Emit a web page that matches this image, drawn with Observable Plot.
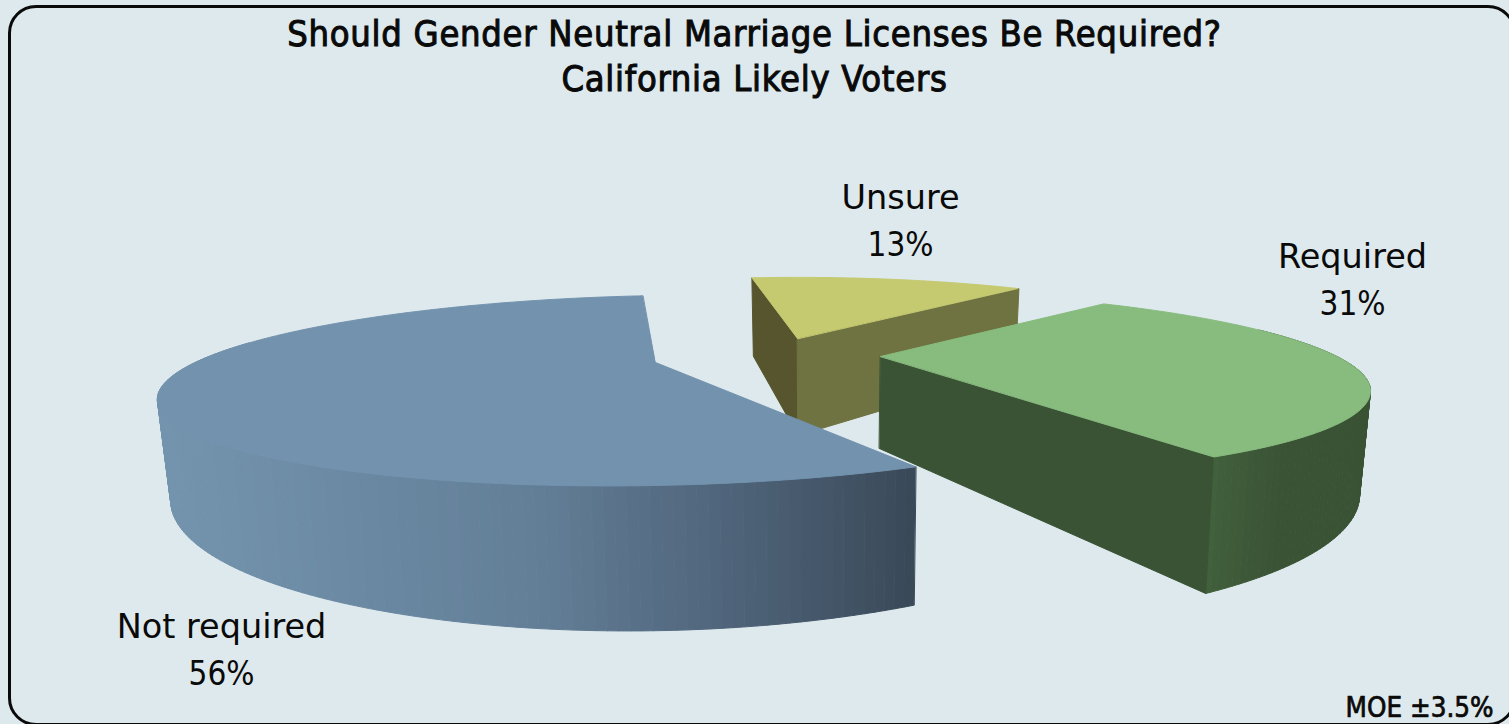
<!DOCTYPE html>
<html><head><meta charset="utf-8">
<script src="https://cdn.jsdelivr.net/npm/d3@7"></script>
<script src="https://cdn.jsdelivr.net/npm/@observablehq/plot@0.6"></script>
<style>
html,body{margin:0;padding:0;background:#dde9ed;overflow:hidden}
#frame{position:absolute;left:8px;top:5px;width:1502px;height:715px;border:3px solid #0a0a0a;border-radius:28px;box-sizing:content-box;pointer-events:none;z-index:2}
#chart{position:absolute;left:0;top:0;width:1509px;height:724px;overflow:hidden}
#title{position:absolute;left:0;top:11px;width:1509px;text-align:center;font:36px/45px "DejaVu Sans Condensed","DejaVu Sans",sans-serif;letter-spacing:.72px;-webkit-text-stroke:1px #0a0a0a;color:#0a0a0a;z-index:1}
svg{position:absolute;left:0;top:0;background:transparent}
</style></head><body>
<div id="chart">
<div id="frame"></div>
<div id="title">Should Gender Neutral Marriage Licenses Be Required?<br>California Likely Voters</div>
</div>
<script>
// Data
const categories = ["Unsure", "Required", "Not required"];
const shares = [13, 31, 56];
const moeLabel = "MOE ±3.5%";

// Look of each slice, in drawing order (back to front)
const sliceStart = [-97.8, -54, 66.5];
const apexX = [797, 880, 655];
const apexY = [338, 356, 362];
const sliceScale = [0.89, 0.985, 1];
const sliceShear = [0, 0.015, -0.018];
const sliceDepth = [97, 92, 89];
const depthPower = [0.92, 1.4, 1.4];
const topColors = ["#c5c96f", "#87bc7e", "#7392ae"];
const wallStops = [["#6f7341", "#6f7341"], ["#41603c", "#3d5838", "#3a5335", "#3a5335"], ["#7494ae", "#637f98", "#4c6075", "#3a4958"]];
const wallStopAt = [[0, 1], [0, 0.25, 0.45, 1], [0, 0.5, 0.8, 1]];
const cutColors = ["#6f7341", "#3a5335", null];
const startCutColors = ["#56552d", null, null];
const labelX = [900, 1352, 221];
const labelY = [198, 257, 627];
const labelLineGap = 47;

// Tilted-disc view
const radius = 476, squash = 86.7, tilt = 0.295, vanishX = 825, taper = 0.98;
const rad = Math.PI / 180;

function viewPoint(s, deg, onDisc, lower) {
  const k = onDisc ? sliceScale[s] : 0;
  const u = k * Math.cos(deg * rad), v = k * Math.sin(deg * rad);
  const f = 1 / (1 - tilt * v);
  const dx = radius * u * f;
  let x = apexX[s] + dx;
  let y = apexY[s] + squash * v * f + sliceShear[s] * dx;
  if (lower) {
    y += sliceDepth[s] * Math.pow(f, depthPower[s]);
    x = vanishX + (x - vanishX) * taper;
  }
  return {x, y};
}

const tops = [], walls = [], cuts = [];
shares.forEach((share, s) => {
  const a0 = sliceStart[s], a1 = a0 + share * 3.6;
  const id = categories[s];
  // Top face
  tops.push({id: id, color: topColors[s], ...viewPoint(s, 0, false, false)});
  for (let a = a0; a <= a1 + 1e-6; a += 0.5) tops.push({id, color: topColors[s], ...viewPoint(s, a, true, false)});
  // Outer wall, one thin strip per step, coloured along its width
  const w0 = Math.max(a0, -25), w1 = Math.min(a1, 200);
  const xs = [];
  for (let a = w0; a <= w1; a += 1) xs.push(viewPoint(s, a, true, false).x);
  const [xa, xb] = d3.extent(xs);
  const shade = d3.scaleLinear(wallStopAt[s], wallStops[s]).interpolate(d3.interpolateRgb);
  for (let a = w0; a < w1; a += 1) {
    const b = Math.min(a + 1, w1);
    const p = [viewPoint(s, a, true, false), viewPoint(s, b, true, false), viewPoint(s, b, true, true), viewPoint(s, a, true, true)];
    const color = shade((p[0].x - xa) / (xb - xa));
    p.forEach(q => walls.push({id: id + a, s, color, ...q}));
  }
  // Cut faces
  const cut = (deg, color, tag) => {
    if (!color) return;
    [viewPoint(s, 0, false, false), viewPoint(s, deg, true, false), viewPoint(s, deg, true, true), viewPoint(s, 0, false, true)]
      .forEach(q => cuts.push({id: id + tag, s, color, ...q}));
  };
  cut(a0, startCutColors[s], "start");
  cut(a1, cutColors[s], "end");
});

const nameLabels = categories.map((c, i) => ({x: labelX[i], y: labelY[i], text: c}));
const shareLabels = categories.map((c, i) => ({x: labelX[i], y: labelY[i] + labelLineGap, text: shares[i] + "%"}));

function face(rows) {
  return Plot.line(rows, {x: "x", y: "y", z: "id", fill: {value: "color", scale: null}, stroke: {value: "color", scale: null}, strokeWidth: 1, curve: "linear-closed"});
}

const marks = [];
shares.forEach((_, s) => {
  const name = categories[s];
  marks.push(face(walls.filter(d => d.s === s)));
  marks.push(face(cuts.filter(d => d.s === s)));
  marks.push(face(tops.filter(d => d.id === name)));
});
marks.push(Plot.text(nameLabels, {x: "x", y: "y", text: "text", fontSize: 33.5, fill: "#0a0a0a", fontFamily: "DejaVu Sans"}));
marks.push(Plot.text(shareLabels, {x: "x", y: "y", text: "text", fontSize: 33, fill: "#0a0a0a", fontFamily: "DejaVu Sans Condensed"}));
marks.push(Plot.text([moeLabel], {x: () => 1493, y: () => 708, text: d => d, textAnchor: "end", fontSize: 27.5, stroke: "#0a0a0a", strokeWidth: 0.7, fill: "#0a0a0a", fontFamily: "DejaVu Sans Condensed"}));

const plot = Plot.plot({
  width: 1509, height: 724, margin: 0,
  x: {domain: [0, 1509], range: [0, 1509], axis: null},
  y: {domain: [0, 724], range: [0, 724], axis: null},
  style: {background: "transparent"},
  marks
});
document.getElementById("chart").appendChild(plot);
</script>
</body></html>
